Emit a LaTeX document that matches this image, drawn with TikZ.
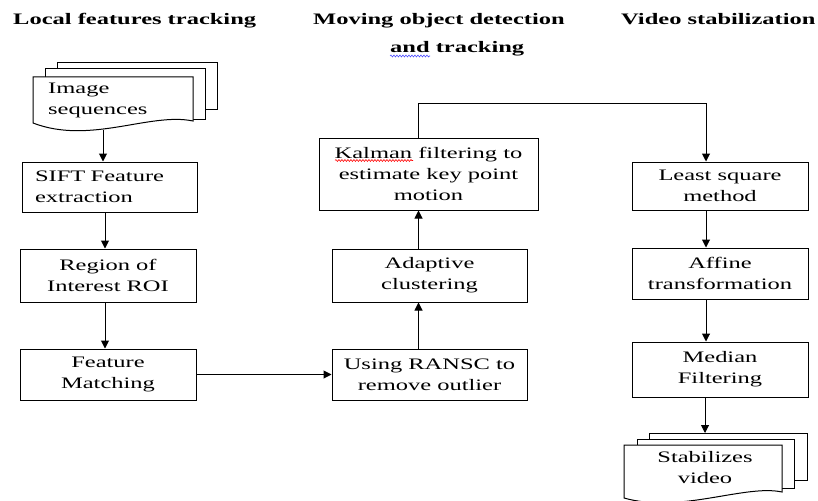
\documentclass[tikz,border=0pt]{standalone}
\usepackage{fontspec}
\setmainfont[FakeStretch=1.53]{Liberation Serif}
\usetikzlibrary{arrows.meta,decorations.pathmorphing}
\begin{document}
\begin{tikzpicture}[x=1pt,y=-1pt,
  box/.style={draw, line width=1pt, fill=white, inner sep=0pt, align=center,
    font=\fontsize{16}{21}\selectfont},
  doc/.style={draw, line width=1pt, fill=white},
  arr/.style={line width=1pt, -{Triangle[length=8pt,width=8pt]}},
  line/.style={line width=1pt},
  head/.style={anchor=base west, inner sep=0pt, font=\fontsize{16}{21}\selectfont\bfseries},
  txt/.style={inner sep=0pt, font=\fontsize{16}{21}\selectfont}]
\useasboundingbox (0,0) rectangle (818,500);
\fill[white] (0,0) rectangle (818,500);

% headings
\node[head] (h1) at (13,25) {Local features tracking};
\node[head] (h2) at (313,25) {Moving object detection};
\node[head] (h3) at (390,53) {and tracking};
\node[head] (h4) at (621,25) {Video stabilization};
\draw[blue!70, line width=0.6pt, decorate, decoration={snake, amplitude=0.9pt, segment length=3pt}] (390,56) -- (430,56);

% image sequences stack
\draw[doc] (57,63) rectangle (217,110);
\draw[doc] (45,69) rectangle (205,119);
\draw[doc] (33,77) -- (193,77) -- (193,121) .. controls (150,112) and (90,145) .. (33,123) -- cycle;
\node[txt, anchor=west, align=left] (imgtxt) at (48,100) {Image\\sequences};
\coordinate (imgbot) at (103,130);

% left column
\node[box, minimum width=175pt, minimum height=50pt, text width=149pt, inner xsep=13pt, align=left] (sift) at (109.5,187) {SIFT Feature\\extraction};
\node[box, minimum width=176pt, minimum height=53pt] (roi) at (108,275.5) {Region of\\Interest ROI};
\node[box, minimum width=176pt, minimum height=51pt] (feat) at (108,374.5) {Feature\\Matching};

% middle column
\node[box, minimum width=195pt, minimum height=51pt] (ransac) at (429.5,374.5) {Using RANSC to\\remove outlier};
\node[box, minimum width=195pt, minimum height=53pt] (adapt) at (429.5,275.5) {Adaptive\\clustering};
\node[box, minimum width=219pt, minimum height=72pt] (kalman) at (428.5,174) {Kalman filtering to\\estimate key point\\motion};
\draw[red, line width=0.6pt, decorate, decoration={snake, amplitude=0.9pt, segment length=3pt}] (335,160.5) -- (413,160.5);

% right column
\node[box, minimum width=176pt, minimum height=48pt] (least) at (720,186) {Least square\\method};
\node[box, minimum width=176pt, minimum height=51pt] (affine) at (720,273.5) {Affine\\transformation};
\node[box, minimum width=176pt, minimum height=55pt] (median) at (720,369.5) {Median\\Filtering};

% stabilized video stack
\draw[doc] (649,433) rectangle (807,480);
\draw[doc] (637,439) rectangle (794,488);
\draw[doc] (624,445) -- (782,445) -- (782,492) .. controls (745,484) and (680,514) .. (624,498) -- cycle;
\node[txt, align=center] (stabtxt) at (705,468) {Stabilizes\\video};
\coordinate (stacktop) at (705,433);

% connectors
\draw[arr] (imgbot) -- (imgbot |- sift.north);
\draw[arr] ([xshift=-3pt]roi.north |- sift.south) -- ([xshift=-3pt]roi.north);
\draw[arr] ([xshift=-3pt]roi.south) -- ([xshift=-3pt]feat.north);
\draw[arr] (feat.east) -- (ransac.west);
\draw[arr] ([xshift=-11pt]ransac.north) -- ([xshift=-11pt]adapt.south);
\draw[arr] ([xshift=-11pt]adapt.north) -- ([xshift=-11pt]adapt.north |- kalman.south);
\draw[arr] ([xshift=-10.5pt]kalman.north) -- ++(0,-34) -| ([xshift=-14pt]least.north);
\draw[arr] ([xshift=-14pt]least.south) -- ([xshift=-14pt]affine.north);
\draw[arr] ([xshift=-14pt]affine.south) -- ([xshift=-14pt]median.north);
\draw[arr] ([xshift=-15pt]median.south) -- (stacktop);
\end{tikzpicture}
\end{document}
